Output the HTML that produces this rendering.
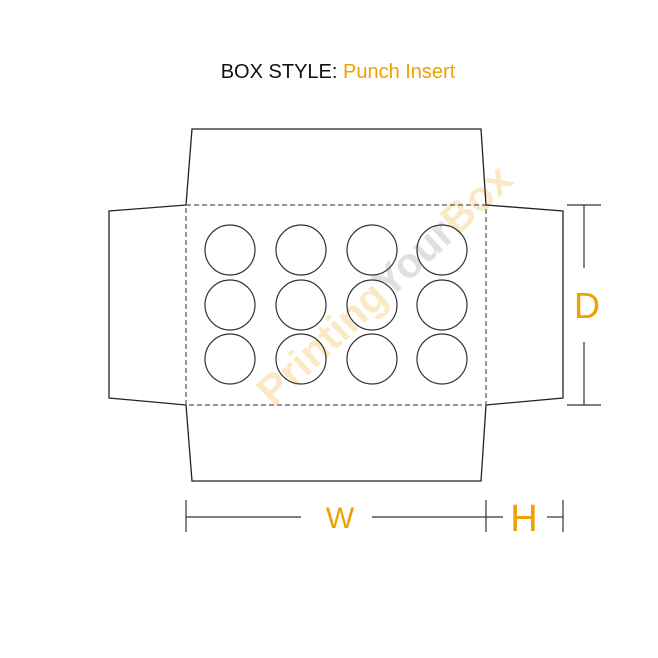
<!DOCTYPE html>
<html><head><style>
html,body{margin:0;padding:0;background:#fff;}
svg{display:block;}
text{font-family:"Liberation Sans",sans-serif;}
</style></head><body>
<svg width="658" height="658" viewBox="0 0 658 658" xmlns="http://www.w3.org/2000/svg">
<text x="338" y="78" font-size="20" text-anchor="middle" fill="#111">BOX STYLE: <tspan fill="#f0a000">Punch Insert</tspan></text>
<text x="382" y="300" font-size="42" font-weight="bold" text-anchor="middle" transform="rotate(-43 382 282)" opacity="0.22"><tspan fill="#f0a000">Printing</tspan><tspan fill="#777">Your</tspan><tspan fill="#f0a000">Box</tspan></text>
<g fill="none" stroke="#222" stroke-width="1.3">
<polyline points="186,205 192,129 481,129 486,205"/>
<polyline points="186,405 192,481 481,481 486,405"/>
<polyline points="186,205 109,211 109,398 186,405"/>
<polyline points="486,205 563,211 563,398 486,405"/>
</g>
<rect x="186" y="205" width="300" height="200" fill="none" stroke="#555" stroke-width="1.2" stroke-dasharray="5,3"/>
<g fill="none" stroke="#333" stroke-width="1.2">
<circle cx="230" cy="250" r="25"/><circle cx="301" cy="250" r="25"/><circle cx="372" cy="250" r="25"/><circle cx="442" cy="250" r="25"/>
<circle cx="230" cy="305" r="25"/><circle cx="301" cy="305" r="25"/><circle cx="372" cy="305" r="25"/><circle cx="442" cy="305" r="25"/>
<circle cx="230" cy="359" r="25"/><circle cx="301" cy="359" r="25"/><circle cx="372" cy="359" r="25"/><circle cx="442" cy="359" r="25"/>
</g>
<g stroke="#333" stroke-width="1.2" fill="none">
<line x1="186" y1="500" x2="186" y2="532"/>
<line x1="486" y1="500" x2="486" y2="532"/>
<line x1="563" y1="500" x2="563" y2="532"/>
<line x1="186" y1="517" x2="301" y2="517"/>
<line x1="372" y1="517" x2="486" y2="517"/>
<line x1="486" y1="517" x2="503" y2="517"/>
<line x1="547" y1="517" x2="563" y2="517"/>
<line x1="567" y1="205" x2="601" y2="205"/>
<line x1="567" y1="405" x2="601" y2="405"/>
<line x1="584" y1="205" x2="584" y2="268"/>
<line x1="584" y1="342" x2="584" y2="405"/>
</g>
<text x="340" y="528" font-size="30" text-anchor="middle" fill="#f0a000">W</text>
<text x="524" y="531" font-size="38" text-anchor="middle" fill="#f0a000">H</text>
<text x="587" y="318" font-size="36" text-anchor="middle" fill="#f0a000">D</text>
</svg>
</body></html>
